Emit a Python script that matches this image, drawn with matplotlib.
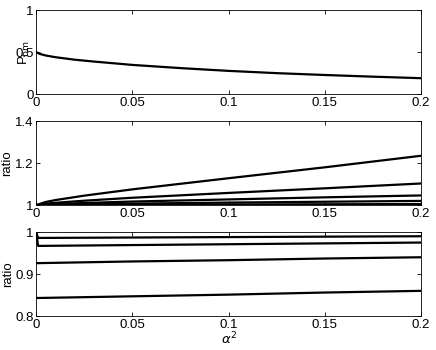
import matplotlib
matplotlib.use("Agg")
import matplotlib.pyplot as plt

plt.rcParams['font.family'] = ['Liberation Sans', 'DejaVu Sans']
plt.rcParams['font.size'] = 9.5

# top panel: P_bm vs alpha^2
x_p = [0, 0.002, 0.005, 0.01, 0.02, 0.03, 0.05, 0.075, 0.1, 0.125, 0.15, 0.175, 0.2]
p_bm = [0.5, 0.478, 0.46, 0.44, 0.41, 0.388, 0.348, 0.31, 0.277, 0.25, 0.228, 0.208, 0.19]

# middle panel: ratio curves (> 1)
x_r = [0, 0.005, 0.01, 0.025, 0.05, 0.1, 0.15, 0.2]
ratio_up = [
    [1.0, 1.015, 1.024, 1.045, 1.075, 1.128, 1.18, 1.235],
    [1.0, 1.007, 1.011, 1.021, 1.035, 1.058, 1.08, 1.103],
    [1.0, 1.003, 1.005, 1.01, 1.017, 1.027, 1.037, 1.046],
    [1.0, 1.001, 1.002, 1.004, 1.007, 1.012, 1.016, 1.02],
    [1.0, 1.0003, 1.0005, 1.001, 1.002, 1.003, 1.004, 1.005],
]

# bottom panel: ratio curves (< 1)
x_d = [0, 0.001, 0.05, 0.1, 0.15, 0.2]
ratio_down = [
    [1.0, 0.986, 0.987, 0.988, 0.989, 0.99],
    [1.0, 0.967, 0.969, 0.971, 0.973, 0.975],
    [0.926, 0.926, 0.93, 0.933, 0.937, 0.94],
    [0.843, 0.843, 0.847, 0.851, 0.856, 0.86],
]

fig = plt.figure(figsize=(4.36, 3.5), dpi=100)
left, width = 0.083, 0.883
ax1 = fig.add_axes([left, 0.731, width, 0.240])
ax2 = fig.add_axes([left, 0.414, width, 0.240])
ax3 = fig.add_axes([left, 0.097, width, 0.240])

ax1.plot(x_p, p_bm, color='k', lw=1.6)
for r in ratio_up:
    ax2.plot(x_r, r, color='k', lw=1.6)
for r in ratio_down:
    ax3.plot(x_d, r, color='k', lw=1.6)

xt = [0, 0.05, 0.1, 0.15, 0.2]
xtl = ['0', '0.05', '0.1', '0.15', '0.2']
for ax in (ax1, ax2, ax3):
    ax.set_xlim(0, 0.2)
    ax.set_xticks(xt)
    ax.set_xticklabels(xtl)
    ax.tick_params(direction='in', top=True, right=True, length=3, width=0.6, pad=2)
    for s in ax.spines.values():
        s.set_linewidth(0.6)

ax1.set_ylim(0, 1)
ax1.set_yticks([0, 0.5, 1])
ax1.set_yticklabels(['0', '0.5', '1'])
ax1.set_ylabel('P$_{\\mathrm{bm}}$', labelpad=-12)

ax2.set_ylim(1, 1.4)
ax2.set_yticks([1, 1.2, 1.4])
ax2.set_yticklabels(['1', '1.2', '1.4'])
ax2.set_ylabel('ratio', labelpad=1)

ax3.set_ylim(0.8, 1)
ax3.set_yticks([0.8, 0.9, 1])
ax3.set_yticklabels(['0.8', '0.9', '1'])
ax3.set_ylabel('ratio', labelpad=1)
ax3.set_xlabel('$\\alpha^2$', labelpad=0)

fig.savefig('out.png', dpi=100)
